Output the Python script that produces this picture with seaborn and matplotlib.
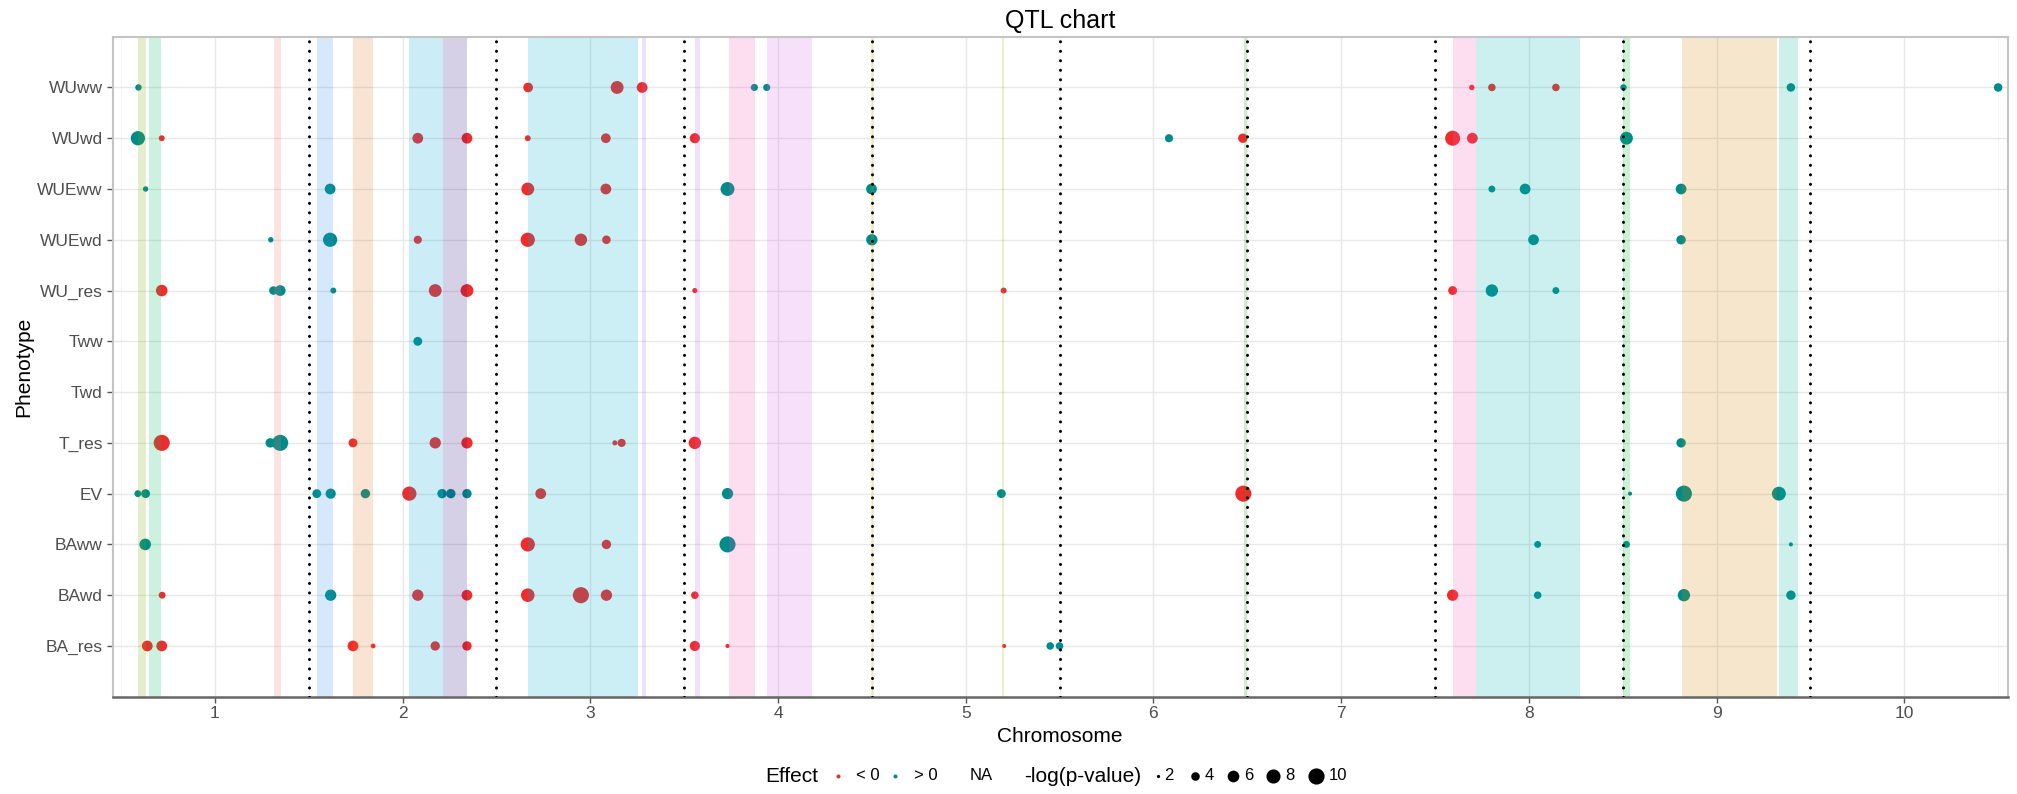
import matplotlib
matplotlib.use("Agg")
import matplotlib.pyplot as plt
from matplotlib.lines import Line2D
import seaborn as sns
import pandas as pd

sns.set_theme(style="white")
plt.rcParams["font.family"] = ["Liberation Sans", "DejaVu Sans"]

# Phenotypes, top to bottom
phenotypes = ["WUww", "WUwd", "WUEww", "WUEwd", "WU_res", "Tww", "Twd",
              "T_res", "EV", "BAww", "BAwd", "BA_res"]

# QTL hits per phenotype: (position on chromosome axis, effect sign, -log10 p)
WUww = [(0.593, 1, 3.0), (2.669, -1, 4.7), (3.143, -1, 7.0), (3.276, -1, 5.4),
        (3.874, 1, 3.3), (3.940, 1, 3.3), (7.696, -1, 2.6), (7.803, -1, 3.5),
        (8.144, -1, 3.5), (8.504, 1, 3.0), (9.396, 1, 4.0), (10.50, 1, 4.0)]
WUwd = [(0.590, 1, 8.2), (0.717, -1, 2.8), (2.081, -1, 5.4), (2.343, -1, 5.4),
        (2.667, -1, 2.8), (3.083, -1, 4.7), (3.557, -1, 5.0), (6.083, 1, 3.8),
        (6.476, -1, 4.5), (7.594, -1, 8.9), (7.699, -1, 5.4), (8.520, 1, 7.0)]
WUEww = [(0.631, 1, 2.6), (1.614, 1, 5.4), (2.667, -1, 7.0), (3.083, -1, 5.4),
         (3.731, 1, 7.9), (4.498, 1, 5.4), (7.803, 1, 3.2), (7.980, 1, 5.4),
         (8.811, 1, 5.4)]
WUEwd = [(1.298, 1, 2.6), (1.614, 1, 8.2), (2.081, -1, 3.8), (2.667, -1, 8.2),
         (2.950, -1, 6.6), (3.086, -1, 4.0), (4.500, 1, 5.8), (8.025, 1, 5.4),
         (8.811, 1, 4.5)]
WU_res = [(0.717, -1, 6.0), (1.312, 1, 4.0), (1.348, 1, 5.4), (1.631, 1, 2.8),
          (2.174, -1, 7.0), (2.343, -1, 7.0), (3.557, -1, 2.5), (5.202, -1, 2.8),
          (7.594, -1, 4.2), (7.803, 1, 6.6), (8.144, 1, 3.2)]
Tww = [(2.081, 1, 4.2)]
Twd = []
T_res = [(0.717, -1, 11.0), (1.295, 1, 4.5), (1.348, 1, 10.0), (1.736, -1, 4.2),
         (2.174, -1, 5.8), (2.343, -1, 5.8), (3.131, -1, 2.5), (3.167, -1, 3.8),
         (3.557, -1, 6.6), (8.811, 1, 4.5)]
EV = [(0.590, 1, 3.2), (0.631, 1, 4.2), (1.543, 1, 4.2), (1.617, 1, 5.0),
      (1.802, 1, 4.5), (2.036, -1, 8.2), (2.210, 1, 4.5), (2.257, 1, 4.5),
      (2.343, 1, 4.5), (2.736, -1, 5.4), (3.731, 1, 5.8), (5.190, 1, 4.2),
      (6.479, -1, 10.0), (8.539, 1, 2.2), (8.826, 1, 13.7), (9.332, 1, 7.9)]
BAww = [(0.629, 1, 6.0), (2.667, -1, 8.2), (3.086, -1, 4.5), (3.731, 1, 10.0),
        (8.047, 1, 3.2), (8.520, 1, 3.2), (9.396, 1, 2.2)]
BAwd = [(0.719, -1, 3.2), (1.617, 1, 5.8), (2.081, -1, 5.8), (2.343, -1, 5.4),
        (2.667, -1, 7.6), (2.950, -1, 12.4), (3.086, -1, 5.8), (3.557, -1, 3.5),
        (7.594, -1, 5.8), (8.047, 1, 3.5), (8.826, 1, 6.6), (9.396, 1, 4.5)]
BA_res = [(0.640, -1, 5.4), (0.717, -1, 5.4), (1.736, -1, 5.4), (1.843, -1, 2.4),
          (2.174, -1, 4.5), (2.343, -1, 4.5), (3.557, -1, 5.0), (3.731, -1, 2.2),
          (5.205, -1, 2.2), (5.450, 1, 3.5), (5.500, 1, 3.5)]

hits = [WUww, WUwd, WUEww, WUEwd, WU_res, Tww, Twd, T_res, EV, BAww, BAwd, BA_res]

# Confidence intervals of QTL clusters (start, end, colour)
band_start = [0.593, 0.648, 1.314, 1.545, 1.738, 2.036, 2.214, 2.669, 3.276,
              3.560, 3.738, 3.943, 4.498, 5.195, 6.483, 7.597, 7.717, 8.504,
              8.814, 9.335]
band_end = [0.633, 0.714, 1.350, 1.631, 1.840, 2.214, 2.345, 3.252, 3.298,
            3.583, 3.876, 4.183, 4.512, 5.203, 6.500, 7.717, 8.272, 8.539,
            9.321, 9.434]
band_color = ["#7CAE00", "#00BA5A", "#F8766D", "#3291EB", "#E17323", "#00A5DC",
              "#2D1482", "#00AACD", "#9B6EEB", "#B464EB", "#F555B4", "#D264E6",
              "#C8B400", "#91AA00", "#1E9B00", "#F555B4", "#00B4B4", "#00B432",
              "#CD8200", "#05B496"]

# Chromosome boundaries
chrom_breaks = [1.5, 2.5, 3.5, 4.5, 5.5, 6.5, 7.5, 8.5, 9.5]
chrom_ticks = list(range(1, 11))

effect_colors = {"< 0": "#EE2C2C", "> 0": "#008B8B"}
size_levels = [2, 4, 6, 8, 10]

rows = []
for i, (name, items) in enumerate(zip(phenotypes, hits)):
    for pos, sign, logp in items:
        rows.append({"Chromosome": pos, "row": i, "Phenotype": name,
                     "Effect": "< 0" if sign < 0 else "> 0", "logp": logp})
df = pd.DataFrame(rows)

W, H = 2017, 794
fig = plt.figure(figsize=(W / 100, H / 100), dpi=100)
ax = fig.add_axes([0.0558, 0.1225, 0.9395, 0.8313])

# marker area grows linearly with -log(p-value)
area_scale = 1.15
sns.scatterplot(data=df, x="Chromosome", y="row", hue="Effect", size="logp",
                palette=effect_colors,
                sizes=(4.7 * area_scale, 116.7 * area_scale), size_norm=(2, 10),
                linewidth=0, alpha=1.0, legend=False, ax=ax, zorder=1)

for s, e, c in zip(band_start, band_end, band_color):
    ax.axvspan(s, e, color=c, alpha=0.2, lw=0, zorder=2)

for b in chrom_breaks:
    ax.axvline(b, color="black", lw=2.2, ls=(0, (0.01, 3.1)),
               dash_capstyle="round", zorder=3)

ax.set_xlim(0.455, 10.55)
ax.set_ylim(len(phenotypes), -1)
ax.set_xticks(chrom_ticks)
ax.set_xticks([t - 0.5 for t in chrom_ticks] + [10.5], minor=True)
ax.set_yticks(range(len(phenotypes)))
ax.set_yticklabels(phenotypes)

ax.set_axisbelow(True)
ax.grid(True, which="major", color="#e8e8e8", lw=1.0)
ax.grid(True, which="minor", axis="x", color="#f3f3f3", lw=0.6)

ax.tick_params(axis="both", which="major", length=4, width=1, color="#555555",
               labelsize=12.5, labelcolor="#4d4d4d", pad=3)
ax.tick_params(axis="both", which="minor", length=0)
ax.tick_params(axis="x", bottom=True)
ax.tick_params(axis="y", left=True)

for side in ["top", "left", "right"]:
    ax.spines[side].set_color("#c4c4c4")
    ax.spines[side].set_linewidth(1.5)
ax.spines["bottom"].set_color("#666666")
ax.spines["bottom"].set_linewidth(1.8)

ax.set_xlabel("Chromosome", fontsize=15, color="black", labelpad=4)
ax.set_ylabel("Phenotype", fontsize=15, color="black", labelpad=3)
ax.set_title("QTL chart", fontsize=18, color="black", pad=6)

# Bottom legend: effect colours, then -log(p-value) sizes, laid out in one row
ly = 1 - 776 / H


def fx(px):
    return px / W


def legend_text(px, s, size):
    fig.text(fx(px), ly, s, fontsize=size, color="black", ha="left", va="center")


def legend_dot(px, color, diam_px):
    fig.add_artist(Line2D([fx(px)], [ly], transform=fig.transFigure, lw=0,
                          marker="o", markersize=diam_px * 0.72,
                          markeredgewidth=0, color=color))


legend_text(765, "Effect", 15)
legend_dot(838, effect_colors["< 0"], 4)
legend_text(856, "< 0", 12)
legend_dot(895, effect_colors["> 0"], 4)
legend_text(914, "> 0", 12)
legend_text(970, "NA", 12)
legend_text(1024, "-log(p-value)", 15)

key_x = [1158, 1195, 1233, 1273, 1316]
for v, kx in zip(size_levels, key_x):
    d = 1.08 * (27 * v - 45) ** 0.5
    legend_dot(kx, "black", d)
    legend_text(kx + d / 2 + 5, str(v), 12)

fig.savefig("out.png", dpi=100)
